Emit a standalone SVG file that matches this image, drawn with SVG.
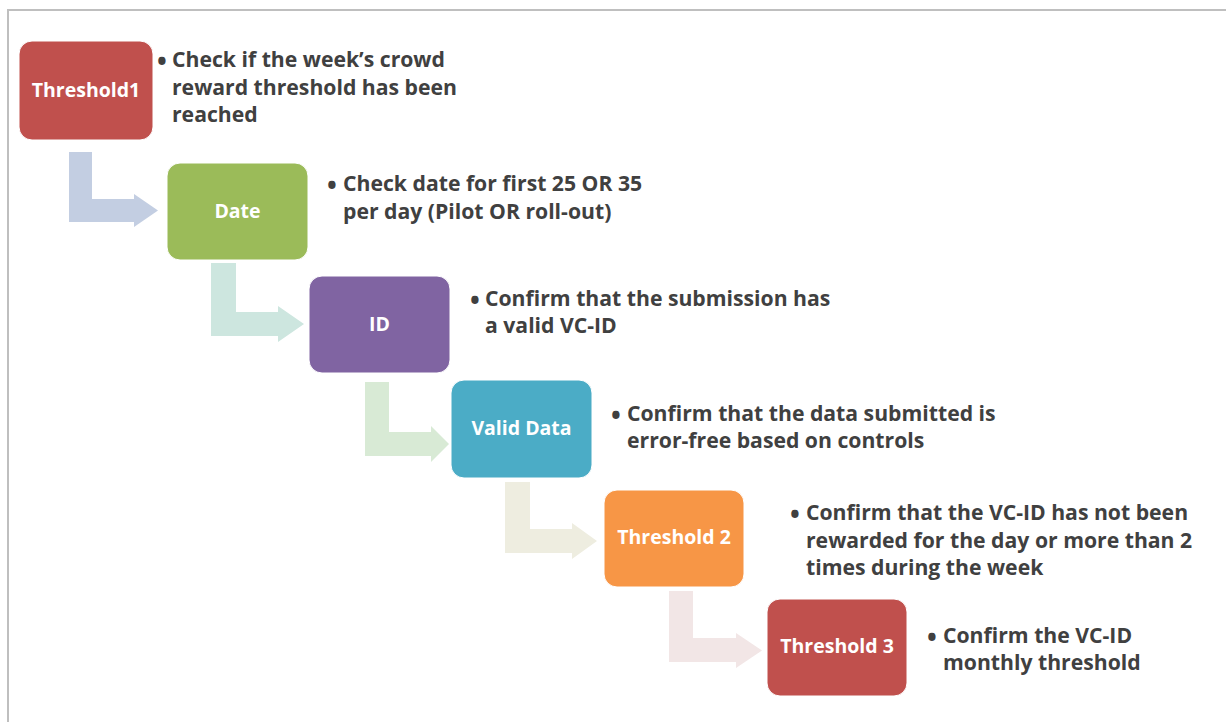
<svg xmlns="http://www.w3.org/2000/svg" width="1226" height="722" viewBox="0 0 1226 722">
  <style>
    .frame { fill: none; stroke: #bfbfbf; stroke-width: 2; }
    .box { stroke: #ffffff; stroke-width: 1; }
    .label { font-family: "Open Sans", "Liberation Sans", sans-serif; font-weight: bold; font-size: 19.5px; fill: #ffffff; text-anchor: middle; }
    .desc { font-family: "Open Sans", "Liberation Sans", sans-serif; font-weight: bold; font-size: 21.2px; fill: #404040; }
    .bullet { font-family: "Open Sans", "Liberation Sans", sans-serif; font-weight: bold; font-size: 26px; fill: #404040; }
  </style>

  <rect x="0" y="0" width="1226" height="722" fill="#ffffff"/>
  <!-- outer frame, open on the right and bottom -->
  <rect class="frame" x="8" y="10" width="1400" height="900"/>

  <!-- bent arrows between steps -->
  <g id="connectors">
    <path d="M69 152 H92 V199 H134 V194 L158 210.5 L134 227 V222 H69 Z" fill="#c3cee2"/>
    <path d="M211 263 H236 V312 H278 V306 L304 324 L278 342 V336 H211 Z" fill="#cde6df"/>
    <path d="M365 382 H389 V432 H431 V426 L449 444 L431 462 V456 H365 Z" fill="#d8ead5"/>
    <path d="M505 482 H530 V529 H572 V523 L597 541 L572 559 V553 H505 Z" fill="#eeede0"/>
    <path d="M669 591 H693 V638 H736 V633 L762 650.5 L736 668 V662 H669 Z" fill="#f2e6e6"/>
  </g>

  <g id="step-threshold1">
    <rect class="box" x="19" y="41" width="134" height="99" rx="13" fill="#c0504d"/>
    <text class="label" x="86" y="97">Threshold1</text>
    <text class="bullet" x="157" y="71">•</text>
    <text class="desc" x="172" y="67">Check if the week’s crowd</text>
    <text class="desc" x="172" y="95">reward threshold has been</text>
    <text class="desc" x="172" y="122">reached</text>
  </g>

  <g id="step-date">
    <rect class="box" x="167" y="163" width="141" height="97" rx="13" fill="#9bbb59"/>
    <text class="label" x="237.5" y="218">Date</text>
    <text class="bullet" x="327" y="195">•</text>
    <text class="desc" x="343" y="191">Check date for first 25 OR 35</text>
    <text class="desc" x="343" y="219">per day (Pilot OR roll-out)</text>
  </g>

  <g id="step-id">
    <rect class="box" x="309" y="276" width="141" height="97" rx="13" fill="#8064a2"/>
    <text class="label" x="379.5" y="331">ID</text>
    <text class="bullet" x="470" y="310">•</text>
    <text class="desc" x="485" y="306">Confirm that the submission has</text>
    <text class="desc" x="485" y="333">a valid VC-ID</text>
  </g>

  <g id="step-valid-data">
    <rect class="box" x="451" y="380" width="141" height="98" rx="13" fill="#4bacc6"/>
    <text class="label" x="521.5" y="435">Valid Data</text>
    <text class="bullet" x="611" y="425">•</text>
    <text class="desc" x="627" y="421">Confirm that the data submitted is</text>
    <text class="desc" x="627" y="448">error-free based on controls</text>
  </g>

  <g id="step-threshold2">
    <rect class="box" x="604" y="490" width="140" height="97" rx="13" fill="#f79646"/>
    <text class="label" x="674" y="544">Threshold 2</text>
    <text class="bullet" x="790" y="524">•</text>
    <text class="desc" x="806" y="520">Confirm that the VC-ID has not been</text>
    <text class="desc" x="806" y="548">rewarded for the day or more than 2</text>
    <text class="desc" x="806" y="575">times during the week</text>
  </g>

  <g id="step-threshold3">
    <rect class="box" x="767" y="599" width="140" height="97" rx="13" fill="#c0504d"/>
    <text class="label" x="837" y="653">Threshold 3</text>
    <text class="bullet" x="927" y="647">•</text>
    <text class="desc" x="943" y="643">Confirm the VC-ID</text>
    <text class="desc" x="943" y="670">monthly threshold</text>
  </g>
</svg>
